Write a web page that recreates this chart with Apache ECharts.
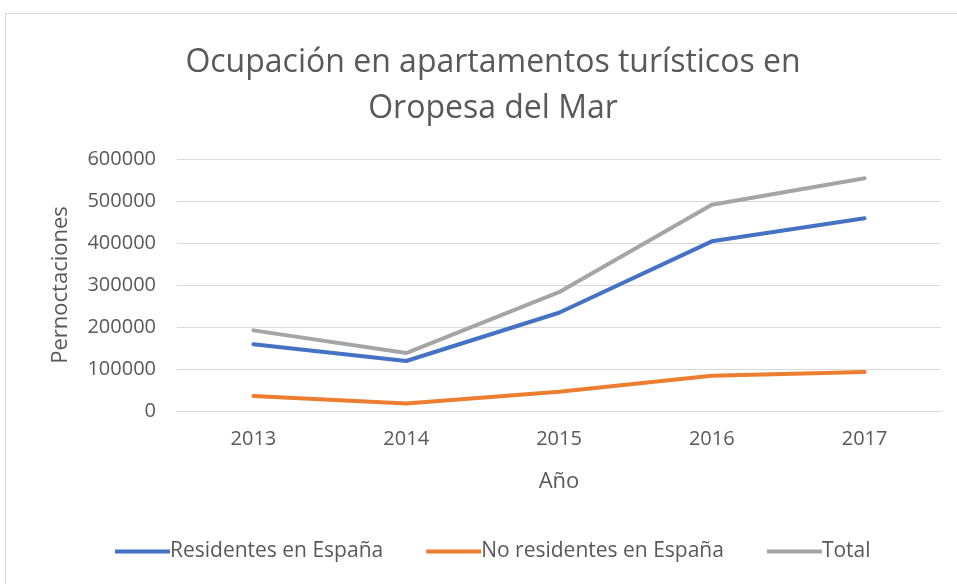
<!DOCTYPE html>
<html>
<head>
<meta charset="utf-8">
<script src="https://cdn.jsdelivr.net/npm/echarts@6/dist/echarts.min.js"></script>
<style>
  html, body { margin: 0; padding: 0; background: #fff; }
  #chart { width: 957px; height: 584px; }
</style>
</head>
<body>
<div id="chart"></div>
<script>
// datos
var years = ['2013', '2014', '2015', '2016', '2017'];
var residentes = [159000, 119000, 234000, 404000, 459000];
var noResidentes = [36000, 18000, 46000, 84000, 93000];
var total = [192000, 138000, 283000, 491000, 554000];
var yTicks = [0, 100000, 200000, 300000, 400000, 500000, 600000];

var font = "'Open Sans', 'Liberation Sans', sans-serif";
var txt = '#595959';

var chart = echarts.init(document.getElementById('chart'));
var option = {
    backgroundColor: '#fff',
    animation: false,
    textStyle: { fontFamily: font },
    graphic: [{
        type: 'rect',
        shape: { x: 5.5, y: 13.5, width: 980, height: 600 },
        style: { fill: 'none', stroke: '#d9d9d9', lineWidth: 1 },
        silent: true
    }],
    title: {
        text: 'Ocupación en apartamentos turísticos en\nOropesa del Mar',
        left: 488,
        textAlign: 'center',
        top: 35,
        textStyle: {
            fontFamily: font,
            fontSize: 32,
            fontWeight: 'normal',
            color: txt,
            lineHeight: 46
        }
    },
    legend: {
        top: 541,
        left: 115,
        padding: 0,
        itemWidth: 55,
        itemHeight: 4,
        itemGap: 43,
        icon: 'rect',
        textStyle: { fontFamily: font, fontSize: 21, color: txt, padding: [0, 0, 0, -5] },
        data: ['Residentes en España', 'No residentes en España', 'Total']
    },
    grid: {
        left: 177,
        right: 16,
        top: 159,
        bottom: 173,
        containLabel: false
    },
    xAxis: {
        type: 'category',
        data: years,
        boundaryGap: true,
        name: 'Año',
        nameLocation: 'middle',
        nameGap: 60,
        nameTextStyle: { fontFamily: font, fontSize: 22, color: txt },
        axisLine: { show: true, lineStyle: { color: '#d9d9d9', width: 1 } },
        axisTick: { show: false },
        axisLabel: { fontSize: 20, color: txt, margin: 18 }
    },
    yAxis: {
        type: 'value',
        min: yTicks[0],
        max: yTicks[yTicks.length - 1],
        interval: 100000,
        name: 'Pernoctaciones',
        nameLocation: 'middle',
        nameGap: 105,
        nameRotate: 90,
        nameTextStyle: { fontFamily: font, fontSize: 22, color: txt },
        axisLine: { show: false },
        axisTick: { show: false },
        splitLine: { lineStyle: { color: '#d9d9d9', width: 1 } },
        axisLabel: {
            fontSize: 20,
            color: txt,
            margin: 21,
            formatter: function (v) { return String(v); }
        }
    },
    series: [
        {
            name: 'Residentes en España',
            type: 'line',
            data: residentes,
            showSymbol: false,
            symbol: 'none',
            lineStyle: { width: 4, color: '#4472C4', cap: 'round', join: 'round' },
            itemStyle: { color: '#4472C4' }
        },
        {
            name: 'No residentes en España',
            type: 'line',
            data: noResidentes,
            showSymbol: false,
            symbol: 'none',
            lineStyle: { width: 4, color: '#ED7D31', cap: 'round', join: 'round' },
            itemStyle: { color: '#ED7D31' }
        },
        {
            name: 'Total',
            type: 'line',
            data: total,
            showSymbol: false,
            symbol: 'none',
            lineStyle: { width: 4, color: '#A5A5A5', cap: 'round', join: 'round' },
            itemStyle: { color: '#A5A5A5' }
        }
    ]
};
chart.setOption(option);
</script>
</body>
</html>
